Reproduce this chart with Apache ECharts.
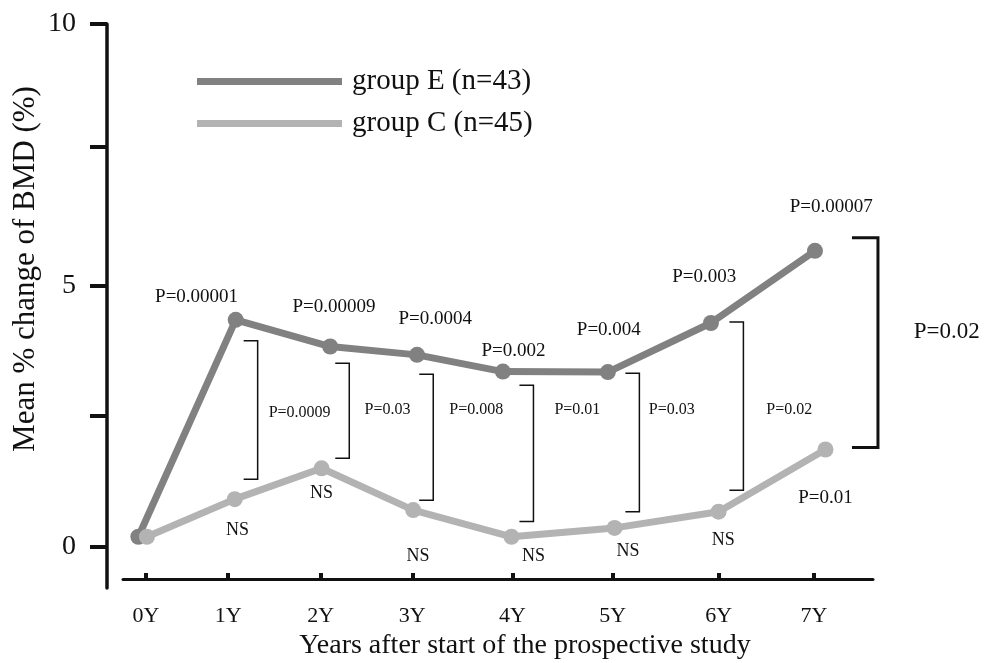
<!DOCTYPE html>
<html>
<head>
<meta charset="utf-8">
<script src="https://cdn.jsdelivr.net/npm/echarts@6/dist/echarts.min.js"></script>
<style>
  html, body { margin: 0; padding: 0; background: #fff; }
  #chart { width: 984px; height: 663px; }
</style>
</head>
<body>
<div id="chart"></div>
<script>
// tick labels of the x axis and where they sit (in years)
const yearLabels = ['0Y', '1Y', '2Y', '3Y', '4Y', '5Y', '6Y', '7Y'];
const yearTicks = [0, 0.86, 1.83, 2.79, 3.84, 4.89, 6.0, 7.0];
const yTicks = [0, 2.5, 5, 7.65, 10];
const yLabels = [0, 5, 10];

// group E
const eYears = [-0.08, 0.94, 1.93, 2.84, 3.74, 4.84, 5.92, 7.01];
const eValues = [0.19, 4.34, 3.83, 3.67, 3.35, 3.34, 4.28, 5.66];
// group C
const cYears = [0.01, 0.93, 1.84, 2.80, 3.83, 4.91, 6.00, 7.12];
const cValues = [0.19, 0.91, 1.50, 0.70, 0.19, 0.36, 0.67, 1.86];

// brackets: [x, top, bottom]
const brackets = [
  [1.17, 3.94, 1.29],
  [2.13, 3.51, 1.69],
  [3.01, 3.30, 0.89],
  [4.06, 3.09, 0.48],
  [5.17, 3.32, 0.67],
  [6.26, 4.30, 1.08]
];
const bigBracket = [[7.67, 5.91, 1.90]];

// p values
const topTexts = ['P=0.00001', 'P=0.00009', 'P=0.0004', 'P=0.002', 'P=0.004', 'P=0.003', 'P=0.00007', 'P=0.01'];
const topPos = [[0.53, 4.77], [1.97, 4.59], [3.03, 4.36], [3.85, 3.74], [4.85, 4.14], [5.85, 5.16], [7.18, 6.50], [7.12, 0.93]];
const midTexts = ['P=0.0009', 'P=0.03', 'P=0.008', 'P=0.01', 'P=0.03', 'P=0.02'];
const midPos = [[1.61, 2.56], [2.53, 2.62], [3.46, 2.62], [4.52, 2.62], [5.51, 2.62], [6.74, 2.62]];
const nsPos = [[0.96, 0.32], [1.84, 1.03], [2.85, -0.18], [4.06, -0.18], [5.05, -0.08], [6.05, 0.13]];
const bigText = ['P=0.02'];
const bigPos = [[8.39, 4.11]];

const serif = "'Liberation Serif', 'DejaVu Serif', serif";

function pairs(xs, ys) {
  return xs.map(function (x, i) { return [x, ys[i]]; });
}

function bracketSeries(data, len, width) {
  return {
    type: 'custom',
    clip: false,
    silent: true,
    data: data,
    renderItem: function (params, api) {
      const p1 = api.coord([api.value(0), api.value(1)]);
      const p2 = api.coord([api.value(0), api.value(2)]);
      return {
        type: 'polyline',
        shape: { points: [[p1[0] - len, p1[1]], p1, p2, [p2[0] - len, p2[1]]] },
        style: { stroke: '#111', lineWidth: width, fill: null }
      };
    }
  };
}

function textSeries(pos, texts, size) {
  return {
    type: 'custom',
    clip: false,
    silent: true,
    data: pos,
    renderItem: function (params, api) {
      const p = api.coord([api.value(0), api.value(1)]);
      return {
        type: 'text',
        x: p[0],
        y: p[1],
        style: {
          text: texts[params.dataIndex % texts.length],
          align: 'center',
          verticalAlign: 'middle',
          font: size + 'px ' + serif,
          fill: '#111'
        }
      };
    }
  };
}

var myChart = echarts.init(document.getElementById('chart'));

var option = {
  animation: false,
  backgroundColor: '#fff',
  grid: { left: 123, right: 111, top: 24, bottom: 75 },
  legend: {
    orient: 'vertical',
    left: 192,
    top: 62,
    icon: 'rect',
    itemWidth: 145,
    itemHeight: 7,
    itemGap: 13,
    textStyle: { fontFamily: serif, fontSize: 29, color: '#111', padding: [0, 0, 0, 5] },
    data: ['group E (n=43)', 'group C (n=45)']
  },
  xAxis: {
    type: 'value',
    min: -0.241,
    max: 7.618,
    offset: -9,
    splitLine: { show: false },
    axisLine: { show: true, onZero: false, lineStyle: { color: '#111', width: 3 } },
    axisTick: { show: true, inside: true, length: 6, lineStyle: { color: '#111', width: 4 }, customValues: yearTicks },
    axisLabel: {
      customValues: yearTicks,
      margin: 26,
      fontFamily: serif,
      fontSize: 22,
      color: '#111',
      formatter: function (v) {
        for (let i = 0; i < yearTicks.length; i++) {
          if (Math.abs(yearTicks[i] - v) < 1e-6) return yearLabels[i];
        }
        return '';
      }
    }
  },
  yAxis: {
    type: 'value',
    min: -0.79,
    max: 10,
    offset: 16,
    splitLine: { show: false },
    axisLine: { show: true, onZero: false, lineStyle: { color: '#111', width: 3.5 } },
    axisTick: { show: true, length: 17, lineStyle: { color: '#111', width: 4 }, customValues: yTicks },
    axisLabel: { customValues: yLabels, margin: 31, fontFamily: serif, fontSize: 28, color: '#111' }
  },
  graphic: [
    {
      type: 'text',
      x: 26,
      y: 269,
      rotation: Math.PI / 2,
      style: {
        text: 'Mean % change of BMD (%)',
        align: 'center',
        verticalAlign: 'middle',
        font: '31px ' + serif,
        fill: '#111'
      }
    },
    {
      type: 'text',
      x: 525,
      y: 646,
      style: {
        text: 'Years after start of the prospective study',
        align: 'center',
        verticalAlign: 'middle',
        font: '28px ' + serif,
        fill: '#111'
      }
    }
  ],
  series: [
    {
      name: 'group E (n=43)',
      type: 'line',
      data: pairs(eYears, eValues),
      symbol: 'circle',
      symbolSize: 16,
      itemStyle: { color: '#818181' },
      lineStyle: { color: '#818181', width: 7 },
      z: 3
    },
    {
      name: 'group C (n=45)',
      type: 'line',
      data: pairs(cYears, cValues),
      symbol: 'circle',
      symbolSize: 16,
      itemStyle: { color: '#b3b3b3' },
      lineStyle: { color: '#b3b3b3', width: 7 },
      z: 4
    },
    bracketSeries(brackets, 14, 1.5),
    bracketSeries(bigBracket, 26, 3),
    textSeries(topPos, topTexts, 19),
    textSeries(midPos, midTexts, 16),
    textSeries(nsPos, ['NS'], 18),
    textSeries(bigPos, bigText, 23)
  ]
};

option && myChart.setOption(option);
</script>
</body>
</html>
